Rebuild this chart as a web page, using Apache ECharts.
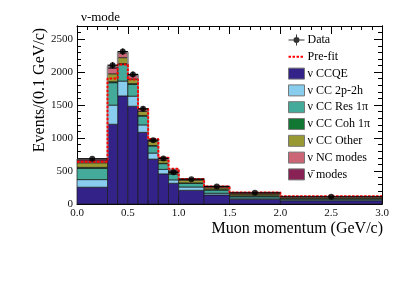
<!DOCTYPE html>
<html><head><meta charset="utf-8">
<script src="https://cdn.jsdelivr.net/npm/echarts@6/dist/echarts.min.js"></script>
<style>html,body{margin:0;padding:0;background:#fff}#c{width:415px;height:281px}</style>
</head><body><div id="c"></div>
<script>
// ---- data (events per 0.1 GeV/c) ----
const binEdges = [0, 0.3, 0.4, 0.5, 0.6, 0.7, 0.8, 0.9, 1.0, 1.25, 1.5, 2.0, 3.0];
const ccqe     = [255, 1210, 1640, 1483, 1087, 681, 457, 315, 208, 137, 71, 50];
const cc2p2h   = [115, 290, 225, 153, 113, 92, 68, 51, 50, 26, 20, 15];
const ccRes    = [170, 340, 250, 178, 133, 107, 87, 89, 57, 50, 29, 15];
const ccCoh    = [15, 15, 15, 12, 10, 8, 6, 5, 5, 4, 4, 5];
const ccOther  = [70, 120, 90, 69, 62, 62, 47, 35, 42, 28, 26, 15];
const ncModes  = [30, 85, 70, 55, 28, 20, 25, 20, 16, 17, 18, 7];
const antiModes= [30, 25, 10, 10, 10, 10, 10, 10, 5, 6, 5, 5];
const dataVals = [685, 2105, 2312, 1966, 1443, 968, 691, 480, 376, 264, 170, 110];
const dataErr  = [15, 46, 48, 44, 38, 31, 26, 22, 12, 10, 6, 3];
const prefit   = [640, 1905, 2115, 1890, 1440, 985, 700, 535, 380, 265, 175, 118];
const xTicks = [0, 0.5, 1.0, 1.5, 2.0, 2.5, 3.0];
const yTicks = [0, 500, 1000, 1500, 2000, 2500];

const layerNames = ['\u03BD CCQE', '\u03BD CC 2p-2h', '\u03BD CC Res 1\u03C0', '\u03BD CC Coh 1\u03C0', '\u03BD CC Other', '\u03BD NC modes', '\u03BD\u0304 modes'];
const layerVals = [ccqe, cc2p2h, ccRes, ccCoh, ccOther, ncModes, antiModes];
const layerColors = ['#332288', '#88CCEE', '#44AA99', '#117733', '#999933', '#CC6677', '#882255'];

const SERIF = '"Liberation Serif", "DejaVu Serif", serif';
const nb = binEdges.length - 1;

const series = [];
const base = new Array(nb).fill(0);
layerVals.forEach((vals, li) => {
  const items = [];
  for (let i = 0; i < nb; i++) {
    items.push([binEdges[i], binEdges[i + 1], base[i], base[i] + vals[i]]);
    base[i] += vals[i];
  }
  series.push({
    type: 'custom', name: layerNames[li], xAxisIndex: 0, yAxisIndex: 0,
    itemStyle: { color: layerColors[li] },
    encode: { x: [0, 1], y: [2, 3] },
    data: items, z: 2,
    renderItem: (params, api) => {
      const p0 = api.coord([api.value(0), api.value(3)]);
      const p1 = api.coord([api.value(1), api.value(2)]);
      return { type: 'rect', shape: { x: p0[0], y: p0[1], width: p1[0] - p0[0], height: p1[1] - p0[1] },
        style: { fill: layerColors[li], stroke: '#1a1a1a', lineWidth: 0.7 } };
    }
  });
});
// total outline
const outline = [];
const preLine = [];
for (let i = 0; i < nb; i++) {
  outline.push([binEdges[i], base[i]], [binEdges[i + 1], base[i]]);
  preLine.push([binEdges[i], prefit[i]], [binEdges[i + 1], prefit[i]]);
}
series.push({ type: 'line', name: 'outline', data: outline, symbol: 'none', silent: true, z: 3,
  lineStyle: { color: '#8a8a8a', width: 1.6 } });
series.push({ type: 'line', name: 'Pre-fit', data: preLine, symbol: 'none', showSymbol: false, z: 4,
  itemStyle: { color: '#ff0000' },
  lineStyle: { color: '#ff0000', width: 2, type: [2.5, 1.5] } });
// data error bars
const errItems = [];
const pts = [];
for (let i = 0; i < nb; i++) {
  const c = (binEdges[i] + binEdges[i + 1]) / 2;
  errItems.push([binEdges[i], binEdges[i + 1], c, dataVals[i], dataErr[i]]);
  pts.push([c, dataVals[i]]);
}
series.push({ type: 'custom', name: 'err', data: errItems, z: 5, silent: true,
  encode: { x: [0, 1], y: 3 },
  renderItem: (params, api) => {
    const lo = api.value(0), hi = api.value(1), c = api.value(2), v = api.value(3), e = api.value(4);
    const a = api.coord([lo, v]), b = api.coord([hi, v]);
    const t = api.coord([c, v + e]), d = api.coord([c, v - e]);
    return { type: 'group', children: [
      { type: 'line', shape: { x1: a[0], y1: a[1], x2: b[0], y2: b[1] }, style: { stroke: '#000', lineWidth: 1.2 } },
      { type: 'line', shape: { x1: t[0], y1: t[1], x2: d[0], y2: d[1] }, style: { stroke: '#000', lineWidth: 1.2 } }
    ] };
  }
});
series.push({ type: 'scatter', name: 'Data', data: pts, symbol: 'circle', symbolSize: 6, z: 6,
  itemStyle: { color: '#000' } });

const tickCommon = (len) => ({ show: true, inside: true, length: len, lineStyle: { color: '#000', width: 1 } });
const lineCommon = { show: true, onZero: false, lineStyle: { color: '#000', width: 1 } };

const dashIcon = 'path://M0,0 L0.01,0 L0.01,0.01 Z M16,11 L15.99,11 L15.99,10.99 Z ' +
  'M0,4.5 L2.5,4.5 L2.5,6.5 L0,6.5 Z M4,4.5 L6.5,4.5 L6.5,6.5 L4,6.5 Z M8,4.5 L10.5,4.5 L10.5,6.5 L8,6.5 Z M12,4.5 L14.5,4.5 L14.5,6.5 L12,6.5 Z';

const option = {
  animation: false,
  backgroundColor: '#fff',
  grid: { left: 77, right: 33, top: 26, bottom: 77, containLabel: false },
  xAxis: [
    { type: 'value', min: xTicks[0], max: xTicks[xTicks.length - 1], interval: 0.5, position: 'bottom',
      axisLine: lineCommon, axisTick: tickCommon(8),
      minorTick: { show: true, splitNumber: 5, length: 4, lineStyle: { color: '#000' } },
      splitLine: { show: false },
      axisLabel: { formatter: v => v.toFixed(1), fontFamily: SERIF, fontSize: 11, color: '#111', margin: 4 } },
    { type: 'value', min: 0, max: 3, interval: 0.5, position: 'top',
      axisLine: lineCommon, axisTick: tickCommon(8),
      minorTick: { show: true, splitNumber: 5, length: 4, lineStyle: { color: '#000' } },
      splitLine: { show: false }, axisLabel: { show: false } }
  ],
  yAxis: [
    { type: 'value', min: 0, max: 2700, interval: 100, position: 'left',
      axisLine: lineCommon, axisTick: tickCommon(4), splitLine: { show: false }, axisLabel: { show: false } },
    { type: 'value', min: 0, max: 2700, interval: 500, position: 'left',
      axisLine: lineCommon, axisTick: tickCommon(8), splitLine: { show: false },
      axisLabel: { showMaxLabel: false, fontFamily: SERIF, fontSize: 11, color: '#111', margin: 4,
        formatter: v => (yTicks.indexOf(v) >= 0 ? String(v) : '') } },
    { type: 'value', min: 0, max: 2700, interval: 100, position: 'right',
      axisLine: lineCommon, axisTick: tickCommon(4), splitLine: { show: false }, axisLabel: { show: false } },
    { type: 'value', min: 0, max: 2700, interval: 500, position: 'right',
      axisLine: lineCommon, axisTick: tickCommon(8), splitLine: { show: false }, axisLabel: { show: false } }
  ],
  legend: {
    orient: 'vertical', left: 288, top: 34, padding: 0, itemWidth: 16, itemHeight: 11, itemGap: 4.8,
    textStyle: { fontFamily: SERIF, fontSize: 12, color: '#000', padding: [0, 0, 0, -2] },
    itemStyle: { borderColor: '#777', borderWidth: 1 },
    data: [
      { name: 'Data', icon: 'path://M0,5 L16,5 L16,6 L0,6 Z M7.5,0 L8.5,0 L8.5,11 L7.5,11 Z M11,5.5 A3,3 0 1,1 5,5.5 A3,3 0 1,1 11,5.5 Z', itemStyle: { borderWidth: 0, color: '#000' } },
      { name: 'Pre-fit', icon: dashIcon, itemStyle: { borderWidth: 0, color: '#ff0000' } }
    ].concat(layerNames.map(n => ({ name: n, icon: 'rect' })))
  },
  graphic: [
    { type: 'text', left: 81, top: 11, style: { text: '\u03BD-mode', font: '13px ' + SERIF, fill: '#000' } },
    { type: 'text', x: 40, y: 90, rotation: Math.PI / 2,
      style: { text: 'Events/(0.1 GeV/c)', font: '16px ' + SERIF, fill: '#000', align: 'center', verticalAlign: 'middle' } },
    { type: 'text', x: 383, y: 229,
      style: { text: 'Muon momentum (GeV/c)', font: '16px ' + SERIF, fill: '#000', align: 'right', verticalAlign: 'middle' } }
  ],
  series: series
};
const chart = echarts.init(document.getElementById('c'), null, { renderer: 'canvas' });
chart.setOption(option);
</script></body></html>
